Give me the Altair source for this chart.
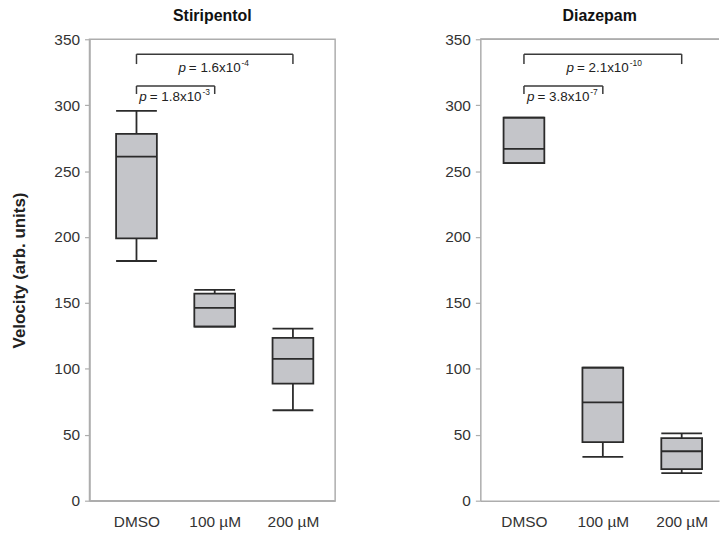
import altair as alt
import pandas as pd

groups = ["DMSO", "100 µM", "200 µM"]
positions = [0, 1, 2]

stiri_min = [181.8, 132.0, 68.6]
stiri_q1 = [198.9, 132.0, 88.8]
stiri_med = [261.0, 146.3, 107.6]
stiri_q3 = [278.3, 157.1, 123.5]
stiri_max = [295.7, 159.9, 130.5]

diaz_min = [256.0, 33.2, 20.9]
diaz_q1 = [256.0, 44.5, 23.9]
diaz_med = [266.8, 74.5, 37.5]
diaz_q3 = [290.6, 100.9, 47.5]
diaz_max = [290.6, 100.9, 51.1]

bracket_from = [0, 0]
bracket_to = [2, 1]
bracket_y = [338.7, 314.6]
bracket_tip = [331.2, 308.5]
label_y = [328.0, 306.5]
stiri_pvals = ["= 1.6x10", "= 1.8x10"]
stiri_exps = ["-4", "-3"]
diaz_pvals = ["= 2.1x10", "= 3.8x10"]
diaz_exps = ["-10", "-7"]

y_ticks = [0, 50, 100, 150, 200, 250, 300, 350]

FONT = "Liberation Sans"
FRAME = "#adadad"
INK = "#2b2b2b"
BOXFILL = "#c4c5c9"
BOXW = 41


def panel(title, mins, q1s, meds, q3s, maxs, pvals, exps, width, xdomain, ytitle, framed):
    df = pd.DataFrame({"group": groups, "pos": positions, "mn": mins, "q1": q1s,
                       "med": meds, "q3": q3s, "mx": maxs})
    brd = pd.DataFrame({"a": bracket_from, "b": bracket_to, "y": bracket_y,
                        "tip": bracket_tip, "ly": label_y, "txt": pvals, "ex": exps})
    brd["mid"] = (brd["a"] + brd["b"]) / 2

    label_expr = "['" + "','".join(groups) + "'][datum.value]"
    xenc = alt.X("pos:Q", scale=alt.Scale(domain=xdomain, nice=False, zero=False),
                 axis=alt.Axis(values=positions, labelExpr=label_expr, ticks=False,
                               grid=False, title=None, labelPadding=14,
                               domainColor=FRAME, domainWidth=1.5))
    yenc = alt.Y("q1:Q", scale=alt.Scale(domain=[0, 350], nice=False),
                 axis=alt.Axis(values=y_ticks, grid=False, tickSize=5, tickColor=FRAME,
                               tickWidth=1.2, labelPadding=5, domainColor=FRAME,
                               domainWidth=1.5, title=ytitle,
                               titleFontWeight="bold", titleFontSize=17,
                               titleColor="#222", titlePadding=25))

    base = alt.Chart(df)
    wlow = base.mark_rule(color=INK, strokeWidth=1.8).encode(
        x=xenc, y=alt.Y("mn:Q"), y2="q1:Q")
    whigh = base.mark_rule(color=INK, strokeWidth=1.8).encode(
        x="pos:Q", y=alt.Y("q3:Q"), y2="mx:Q")
    box = base.mark_bar(size=BOXW, fill=BOXFILL, stroke=INK, strokeWidth=1.8).encode(
        x="pos:Q", y=yenc, y2="q3:Q")
    med = base.mark_tick(orient="horizontal", size=BOXW, thickness=1.8, color=INK,
                         opacity=1).encode(x="pos:Q", y="med:Q")
    capl = base.mark_tick(orient="horizontal", size=BOXW, thickness=1.8, color=INK,
                          opacity=1).encode(x="pos:Q", y="mn:Q")
    caph = base.mark_tick(orient="horizontal", size=BOXW, thickness=1.8, color=INK,
                          opacity=1).encode(x="pos:Q", y="mx:Q")

    bb = alt.Chart(brd)
    bh = bb.mark_rule(color="#3a3a3a", strokeWidth=1.5).encode(
        x="a:Q", x2="b:Q", y="y:Q")
    bl = bb.mark_rule(color="#3a3a3a", strokeWidth=1.5).encode(
        x="a:Q", y="tip:Q", y2="y:Q")
    brr = bb.mark_rule(color="#3a3a3a", strokeWidth=1.5).encode(
        x="b:Q", y="tip:Q", y2="y:Q")
    tp = bb.mark_text(text="p", font=FONT, fontStyle="italic", fontSize=13.5,
                      align="right", baseline="middle", dx=-29, color="#222").encode(
        x="mid:Q", y="ly:Q")
    tr = bb.mark_text(font=FONT, fontSize=13.5, align="left", baseline="middle",
                      dx=-26, color="#222").encode(x="mid:Q", y="ly:Q", text="txt:N")
    te = bb.mark_text(font=FONT, fontSize=8.5, align="left", baseline="middle",
                      dx=27, dy=-5, color="#222").encode(x="mid:Q", y="ly:Q", text="ex:N")

    layers = [box, wlow, whigh, med, capl, caph, bh, bl, brr, tp, tr, te]
    if not framed:
        top = alt.Chart(df).mark_rule(color=FRAME, strokeWidth=1.5).encode(
            x=alt.value(0), x2=alt.value(width), y=alt.value(0))
        layers.append(top)
    ch = alt.layer(*layers).properties(
        width=width, height=464,
        title=alt.TitleParams(title, fontSize=16, fontWeight="bold", font=FONT,
                              anchor="middle", color="#111", offset=8),
    )
    if framed:
        ch = ch.properties(view=alt.ViewBackground(stroke=FRAME, strokeWidth=1.5))
    return ch


left = panel("Stiripentol", stiri_min, stiri_q1, stiri_med, stiri_q3, stiri_max,
             stiri_pvals, stiri_exps, 247, [-0.537, 2.476], "Velocity (arb. units)", True)
right = panel("Diazepam", diaz_min, diaz_q1, diaz_med, diaz_q3, diaz_max,
              diaz_pvals, diaz_exps, 240, [-0.49, 2.41], None, False)

chart = alt.hconcat(left, right, spacing=109).properties(
    padding={"left": 10, "top": 6, "right": 0, "bottom": 0},
    background="white",
).configure_view(stroke=None).configure_axis(
    labelFont=FONT, titleFont=FONT, labelFontSize=15.5, labelColor="#333"
)

chart.save("out.html", embed_options={"renderer": "svg", "actions": False})
